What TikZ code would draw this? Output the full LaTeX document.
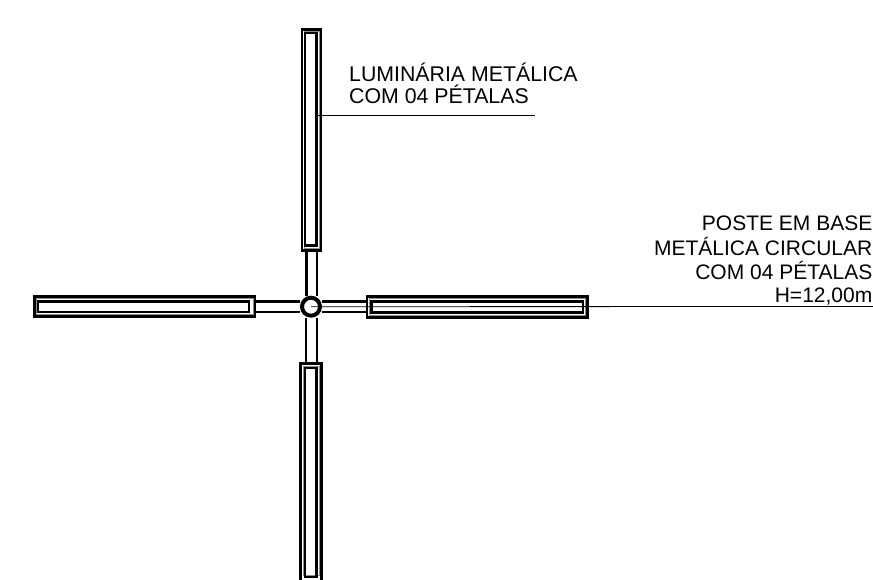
\documentclass[tikz,border=0pt]{standalone}
\usepackage{fontspec}
\setmainfont{Liberation Sans}
\tikzset{
  petal/.style={draw=black, line width=2.4pt, fill=white},
  petalin/.style={draw=black, line width=2.2pt},
  bevel/.style={draw=black!45, line width=1pt},
  arm/.style={draw=black, line width=2.4pt},
  leader/.style={draw=black, line width=.8pt},
  label/.style={font=\fontsize{21.3}{22}\selectfont, inner sep=0pt},
  labelr/.style={font=\fontsize{21}{22}\selectfont, inner sep=0pt, anchor=base east}
}
\begin{document}
\begin{tikzpicture}[x=1pt, y=-1pt]
  \useasboundingbox (0,0) rectangle (873,579);
  % arms
  \draw[arm] (306.5,250) -- (306.5,296) (317,250) -- (317,296);
  \draw[arm] (306,318) -- (306,362) (317,318) -- (317,362);
  \draw[arm] (256,301.5) -- (300,301.5) (256,312) -- (300,312);
  \draw[arm] (322,301.5) -- (367,301.5) (322,312) -- (367,312);
  % top petal
  \draw[petal] (302,29.5) rectangle (321,250.5);
  \draw[bevel] (304,31) rectangle (319,248.5);
  \draw[petalin] (305,33) rectangle (316.5,245.5);
  % bottom petal
  \draw[petal] (300.5,363.5) rectangle (321.5,590);
  \draw[bevel] (303,366) rectangle (319,575);
  \draw[petalin] (305,368) rectangle (316.5,577);
  % left petal
  \draw[petal] (34.5,296.5) rectangle (255,316.5);
  \draw[bevel] (36,298.5) rectangle (253,314.5);
  \draw[petalin] (38,301.5) rectangle (249,312);
  % right petal
  \draw[petal] (367,296.5) rectangle (587.5,317.5);
  \draw[bevel] (369,298.5) rectangle (585.5,315.5);
  \draw[petalin] (371.5,301.5) rectangle (583,312.5);
  % post
  \node[circle, draw=black, line width=4pt, fill=white, minimum size=18pt, inner sep=0pt] (post) at (311,306.7) {};
  % labels
  \coordinate (lumA) at (318,115.5);
  \coordinate (lumB) at (535,115.5);
  \coordinate (posB) at (873,306.5);
  \draw[leader] (lumA) -- (lumB);
  \draw[leader] (post.center) -- (posB);
  \node[label, anchor=base west, align=left] (lum) at (349,103) {LUMINÁRIA METÁLICA\\COM 04 PÉTALAS};
  \node[labelr] (pos1) at (872.5,230) {POSTE EM BASE};
  \node[labelr] (pos2) at (872.5,255) {METÁLICA CIRCULAR};
  \node[labelr] (pos3) at (872.5,279) {COM 04 PÉTALAS};
  \node[labelr] (pos4) at (872.5,302) {H=12,00m};
\end{tikzpicture}
\end{document}
